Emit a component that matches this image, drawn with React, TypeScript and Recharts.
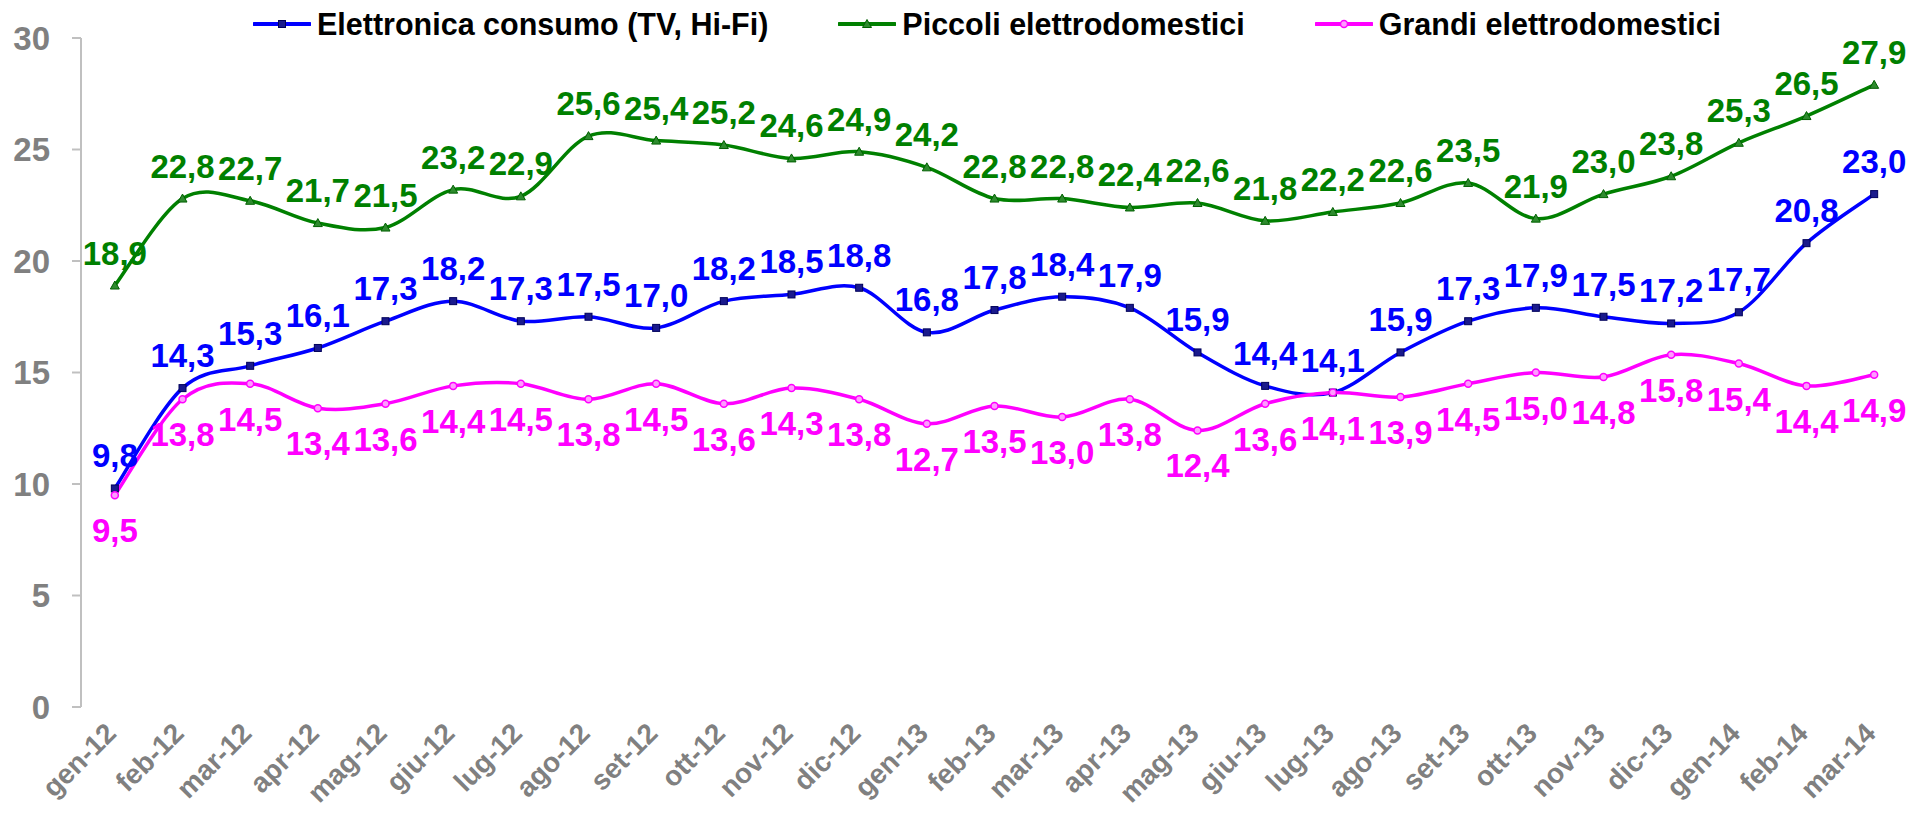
import { LabelList, Line, LineChart, XAxis, YAxis } from 'recharts'

const months = [
  'gen-12', 'feb-12', 'mar-12', 'apr-12', 'mag-12', 'giu-12', 'lug-12', 'ago-12', 'set-12',
  'ott-12', 'nov-12', 'dic-12', 'gen-13', 'feb-13', 'mar-13', 'apr-13', 'mag-13', 'giu-13',
  'lug-13', 'ago-13', 'set-13', 'ott-13', 'nov-13', 'dic-13', 'gen-14', 'feb-14', 'mar-14',
]

const elettronica = [
  9.8, 14.3, 15.3, 16.1, 17.3, 18.2, 17.3, 17.5, 17.0, 18.2, 18.5, 18.8, 16.8, 17.8,
  18.4, 17.9, 15.9, 14.4, 14.1, 15.9, 17.3, 17.9, 17.5, 17.2, 17.7, 20.8, 23.0,
]

const piccoli = [
  18.9, 22.8, 22.7, 21.7, 21.5, 23.2, 22.9, 25.6, 25.4, 25.2, 24.6, 24.9, 24.2, 22.8,
  22.8, 22.4, 22.6, 21.8, 22.2, 22.6, 23.5, 21.9, 23.0, 23.8, 25.3, 26.5, 27.9,
]

const grandi = [
  9.5, 13.8, 14.5, 13.4, 13.6, 14.4, 14.5, 13.8, 14.5, 13.6, 14.3, 13.8, 12.7, 13.5,
  13.0, 13.8, 12.4, 13.6, 14.1, 13.9, 14.5, 15.0, 14.8, 15.8, 15.4, 14.4, 14.9,
]

const yTicks = [0, 5, 10, 15, 20, 25, 30]

const seriesNames = [
  'Elettronica consumo (TV, Hi-Fi)',
  'Piccoli elettrodomestici',
  'Grandi elettrodomestici',
]

const data = months.map((month, i) => ({
  month,
  elettronica: elettronica[i],
  piccoli: piccoli[i],
  grandi: grandi[i],
}))

const edgeTicks = [...months.map((_, i) => i), months.length]

const FONT = '"Liberation Sans", Arial, sans-serif'
const WIDTH = 1917
const HEIGHT = 813
const Y_AXIS_WIDTH = 81
const MARGIN = { top: 38, right: 9, bottom: 0, left: 0 }
const plotWidth = WIDTH - Y_AXIS_WIDTH - MARGIN.right
const halfBand = plotWidth / months.length / 2

const BLUE = '#0000ff'
const GREEN = '#008000'
const MAGENTA = '#ff00ff'
const AXIS = '#c0c0c0'

const fmt = (v: number) => v.toFixed(1).replace('.', ',')

// Excel style smoothing: a Catmull-Rom spline turned into bezier segments
function excelSmooth(context: any) {
  let pts: [number, number][] = []
  return {
    areaStart() {},
    areaEnd() {},
    lineStart() {
      pts = []
    },
    point(x: number, y: number) {
      pts.push([+x, +y])
    },
    lineEnd() {
      const n = pts.length
      if (!n) return
      context.moveTo(pts[0][0], pts[0][1])
      if (n === 2) {
        context.lineTo(pts[1][0], pts[1][1])
        return
      }
      for (let i = 0; i < n - 1; i++) {
        const p0 = pts[Math.max(i - 1, 0)]
        const p1 = pts[i]
        const p2 = pts[i + 1]
        const p3 = pts[Math.min(i + 2, n - 1)]
        context.bezierCurveTo(
          p1[0] + (p2[0] - p0[0]) / 6,
          p1[1] + (p2[1] - p0[1]) / 6,
          p2[0] - (p3[0] - p1[0]) / 6,
          p2[1] - (p3[1] - p1[1]) / 6,
          p2[0],
          p2[1],
        )
      }
    },
  }
}

function SquareDot({ cx, cy }: { cx: number; cy: number }) {
  return <rect x={cx - 3.5} y={cy - 3.5} width={7} height={7} fill="#1a1a8c" stroke="#00005a" strokeWidth={1} />
}

function TriangleDot({ cx, cy }: { cx: number; cy: number }) {
  return (
    <polygon
      points={`${cx},${cy - 4.5} ${cx - 4.5},${cy + 3.5} ${cx + 4.5},${cy + 3.5}`}
      fill="#2e8b2e"
      stroke="#006000"
      strokeWidth={1}
    />
  )
}

function CircleDot({ cx, cy }: { cx: number; cy: number }) {
  return <circle cx={cx} cy={cy} r={3.5} fill="#ff9cff" stroke={MAGENTA} strokeWidth={1.5} />
}

const makeLabel = (color: string, dy: number) => (props: any) => {
  const vb = props.viewBox || {}
  const x = props.x ?? vb.x
  const y = props.y ?? vb.y
  if (x == null || y == null || props.value == null) return null
  return (
    <text
      x={x}
      y={y + dy}
      fill={color}
      fontSize={33}
      fontWeight="bold"
      fontFamily={FONT}
      textAnchor="middle"
    >
      {fmt(Number(props.value))}
    </text>
  )
}

function MonthTick({ x, y, payload }: any) {
  const tx = x + 3
  return (
    <text
      x={tx}
      y={y}
      transform={`rotate(-45, ${tx}, ${y})`}
      textAnchor="end"
      fill="#808080"
      fontSize={28}
      fontWeight="bold"
      fontFamily={FONT}
    >
      {payload.value}
    </text>
  )
}

function LegendIcon({ color, marker }: { color: string; marker: 'square' | 'triangle' | 'circle' }) {
  return (
    <svg width={58} height={14} style={{ display: 'block' }}>
      <line x1={1} y1={7} x2={57} y2={7} stroke={color} strokeWidth={4} strokeLinecap="round" />
      {marker === 'square' && <SquareDot cx={29} cy={7} />}
      {marker === 'triangle' && <TriangleDot cx={29} cy={7} />}
      {marker === 'circle' && <CircleDot cx={29} cy={7} />}
    </svg>
  )
}

const legendItems = [
  { name: seriesNames[0], color: BLUE, marker: 'square' as const },
  { name: seriesNames[1], color: GREEN, marker: 'triangle' as const },
  { name: seriesNames[2], color: MAGENTA, marker: 'circle' as const },
]

export default function App() {
  return (
    <div
      style={{
        position: 'absolute',
        left: 0,
        top: 0,
        width: WIDTH,
        height: HEIGHT,
        background: '#fff',
        fontFamily: FONT,
      }}
    >
      <div
        style={{
          position: 'absolute',
          left: 253,
          top: 9,
          display: 'flex',
          alignItems: 'center',
          whiteSpace: 'nowrap',
        }}
      >
        {legendItems.map((item, i) => (
          <div
            key={item.name}
            style={{ display: 'flex', alignItems: 'center', marginLeft: i === 0 ? 0 : 70 }}
          >
            <LegendIcon color={item.color} marker={item.marker} />
            <span
              style={{
                marginLeft: 6,
                fontSize: 30.5,
                lineHeight: '30px',
                fontWeight: 'bold',
                color: '#000',
              }}
            >
              {item.name}
            </span>
          </div>
        ))}
      </div>

      <LineChart width={WIDTH} height={HEIGHT} data={data} margin={MARGIN}>
        <XAxis
          xAxisId="edges"
          type="number"
          domain={[0, months.length]}
          ticks={edgeTicks}
          allowDataOverflow
          height={0}
          tick={false}
          tickSize={8}
          stroke={AXIS}
          strokeWidth={2}
        />
        <XAxis
          dataKey="month"
          interval={0}
          height={106}
          padding={{ left: halfBand, right: halfBand }}
          axisLine={false}
          tickLine={false}
          tickSize={0}
          tickMargin={28}
          tick={<MonthTick />}
        />
        <YAxis
          domain={[0, 30]}
          ticks={yTicks}
          width={Y_AXIS_WIDTH}
          tickSize={9}
          tickMargin={22}
          stroke={AXIS}
          strokeWidth={2}
          tick={{ fill: '#808080', fontSize: 33, fontWeight: 'bold', fontFamily: FONT }}
        />
        <Line
          dataKey="elettronica"
          name={seriesNames[0]}
          stroke={BLUE}
          strokeWidth={3.5}
          type={excelSmooth as any}
          dot={(p: any) => <SquareDot key={`e${p.index}`} cx={p.cx} cy={p.cy} />}
          activeDot={false}
          isAnimationActive={false}
        >
          <LabelList dataKey="elettronica" content={makeLabel(BLUE, -21)} />
        </Line>
        <Line
          dataKey="piccoli"
          name={seriesNames[1]}
          stroke={GREEN}
          strokeWidth={3.5}
          type={excelSmooth as any}
          dot={(p: any) => <TriangleDot key={`p${p.index}`} cx={p.cx} cy={p.cy} />}
          activeDot={false}
          isAnimationActive={false}
        >
          <LabelList dataKey="piccoli" content={makeLabel(GREEN, -21)} />
        </Line>
        <Line
          dataKey="grandi"
          name={seriesNames[2]}
          stroke={MAGENTA}
          strokeWidth={3.5}
          type={excelSmooth as any}
          dot={(p: any) => <CircleDot key={`g${p.index}`} cx={p.cx} cy={p.cy} />}
          activeDot={false}
          isAnimationActive={false}
        >
          <LabelList dataKey="grandi" content={makeLabel(MAGENTA, 47)} />
        </Line>
      </LineChart>
    </div>
  )
}
